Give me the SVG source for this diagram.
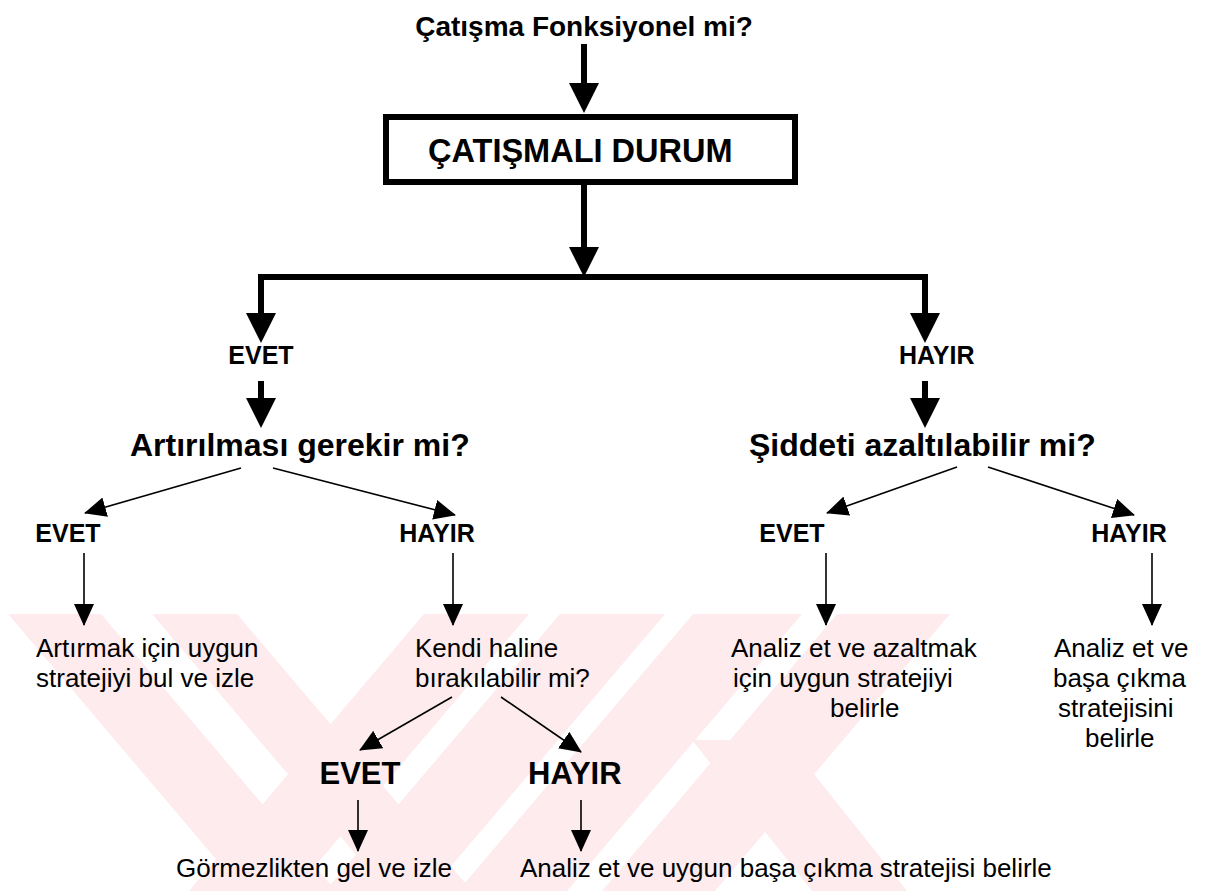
<svg xmlns="http://www.w3.org/2000/svg" width="1214" height="891" viewBox="0 0 1214 891">
  <defs>
    <style>
      text { font-family: "Liberation Sans", Arial, sans-serif; fill: #000; }
      .q { font-weight: bold; font-size: 32px; }
      .lbl { font-weight: bold; font-size: 25px; }
      .lbl2 { font-weight: bold; font-size: 31px; }
      .txt { font-size: 26px; }
      .thick { stroke: #000; stroke-width: 6; fill: none; stroke-linejoin: miter; }
      .thin { stroke: #000; stroke-width: 1.6; fill: none; }
      .wm { fill: #fdebee; }
    </style>
    <marker id="headThick" viewBox="0 0 30 30" refX="1" refY="15" markerWidth="30" markerHeight="30" markerUnits="userSpaceOnUse" orient="auto">
      <path d="M0,0 L30,15 L0,30 z" fill="#000"/>
    </marker>
    <marker id="headThin" viewBox="0 0 22 20" refX="21" refY="10" markerWidth="22" markerHeight="20" markerUnits="userSpaceOnUse" orient="auto">
      <path d="M0,0 L22,10 L0,20 z" fill="#000"/>
    </marker>
    <clipPath id="wmClip">
      <rect x="0" y="614" width="1214" height="277"/>
    </clipPath>
  </defs>

  <rect width="1214" height="891" fill="#fff"/>

  <!-- faint background emblem -->
  <g id="emblem" clip-path="url(#wmClip)">
    <polygon class="wm" points="8,614 101,614 336,891 243,891"/>
    <polygon class="wm" points="152,614 237,614 472,891 387,891"/>
    <polygon class="wm" points="424,614 529,614 294,891 189,891"/>
    <polygon class="wm" points="560,614 665,614 430,891 325,891"/>
    <polygon class="wm" points="693,614 802,614 567,891 458,891"/>
    <polygon class="wm" points="837,614 950,614 715,891 602,891"/>
    <polygon class="wm" points="692,740 787,740 907,891 812,891"/>
  </g>

  <!-- connectors -->
  <g id="connectors">
    <line class="thick" x1="584" y1="44" x2="584" y2="84" marker-end="url(#headThick)"/>
    <line class="thick" x1="584" y1="184" x2="584" y2="248" marker-end="url(#headThick)"/>
    <path class="thick" d="M584,277 H261 V314" marker-end="url(#headThick)"/>
    <path class="thick" d="M584,277 H925 V314" marker-end="url(#headThick)"/>
    <line class="thick" x1="261" y1="381" x2="261" y2="399" marker-end="url(#headThick)"/>
    <line class="thick" x1="925" y1="381" x2="925" y2="399" marker-end="url(#headThick)"/>

    <line class="thin" x1="241" y1="468" x2="85" y2="513" marker-end="url(#headThin)"/>
    <line class="thin" x1="273" y1="468" x2="455" y2="515" marker-end="url(#headThin)"/>
    <line class="thin" x1="957" y1="467" x2="827" y2="513" marker-end="url(#headThin)"/>
    <line class="thin" x1="988" y1="467" x2="1134" y2="515" marker-end="url(#headThin)"/>

    <line class="thin" x1="84" y1="553" x2="84" y2="625" marker-end="url(#headThin)"/>
    <line class="thin" x1="453" y1="553" x2="453" y2="625" marker-end="url(#headThin)"/>
    <line class="thin" x1="826" y1="553" x2="826" y2="625" marker-end="url(#headThin)"/>
    <line class="thin" x1="1152" y1="553" x2="1152" y2="625" marker-end="url(#headThin)"/>

    <line class="thin" x1="452" y1="697" x2="360" y2="750" marker-end="url(#headThin)"/>
    <line class="thin" x1="501" y1="697" x2="581" y2="752" marker-end="url(#headThin)"/>

    <line class="thin" x1="358" y1="800" x2="358" y2="851" marker-end="url(#headThin)"/>
    <line class="thin" x1="581" y1="800" x2="581" y2="851" marker-end="url(#headThin)"/>
  </g>

  <!-- nodes -->
  <g id="n-question">
    <text x="584" y="36" text-anchor="middle" font-weight="bold" font-size="28">Çatışma Fonksiyonel mi?</text>
  </g>

  <g id="n-situation">
    <rect x="386" y="117" width="409" height="65" fill="none" stroke="#000" stroke-width="6"/>
    <text x="428" y="162" font-weight="bold" font-size="32.5">ÇATIŞMALI DURUM</text>
  </g>

  <g id="n-yes1">
    <text class="lbl" x="261" y="364" text-anchor="middle">EVET</text>
  </g>
  <g id="n-no1">
    <text class="lbl" x="899" y="364">HAYIR</text>
  </g>

  <g id="n-increase">
    <text class="q" x="130" y="456">Artırılması gerekir mi?</text>
  </g>
  <g id="n-reduce">
    <text class="q" x="749" y="456">Şiddeti azaltılabilir mi?</text>
  </g>

  <g id="n-yes2">
    <text class="lbl" x="68" y="542" text-anchor="middle">EVET</text>
  </g>
  <g id="n-no2">
    <text class="lbl" x="437" y="542" text-anchor="middle">HAYIR</text>
  </g>
  <g id="n-yes3">
    <text class="lbl" x="792" y="542" text-anchor="middle">EVET</text>
  </g>
  <g id="n-no3">
    <text class="lbl" x="1129" y="542" text-anchor="middle">HAYIR</text>
  </g>

  <g id="n-increase-strategy">
    <text class="txt" x="36" y="657">Artırmak için uygun</text>
    <text class="txt" x="36" y="687">stratejiyi bul ve izle</text>
  </g>

  <g id="n-leave">
    <text class="txt" x="415" y="657">Kendi haline</text>
    <text class="txt" x="415" y="687">bırakılabilir mi?</text>
  </g>

  <g id="n-reduce-strategy">
    <text class="txt" x="731" y="657">Analiz et ve azaltmak</text>
    <text class="txt" x="733" y="687">için uygun stratejiyi</text>
    <text class="txt" x="830" y="717">belirle</text>
  </g>

  <g id="n-coping-strategy">
    <text class="txt" x="1054" y="657">Analiz et ve</text>
    <text class="txt" x="1053" y="687">başa çıkma</text>
    <text class="txt" x="1058" y="717">stratejisini</text>
    <text class="txt" x="1085" y="747">belirle</text>
  </g>

  <g id="n-yes4">
    <text class="lbl2" x="360" y="784" text-anchor="middle">EVET</text>
  </g>
  <g id="n-no4">
    <text class="lbl2" x="528" y="784">HAYIR</text>
  </g>

  <g id="n-ignore">
    <text class="txt" x="176" y="877">Görmezlikten gel ve izle</text>
  </g>
  <g id="n-analyse">
    <text class="txt" x="520" y="877">Analiz et ve uygun başa çıkma stratejisi belirle</text>
  </g>
</svg>
